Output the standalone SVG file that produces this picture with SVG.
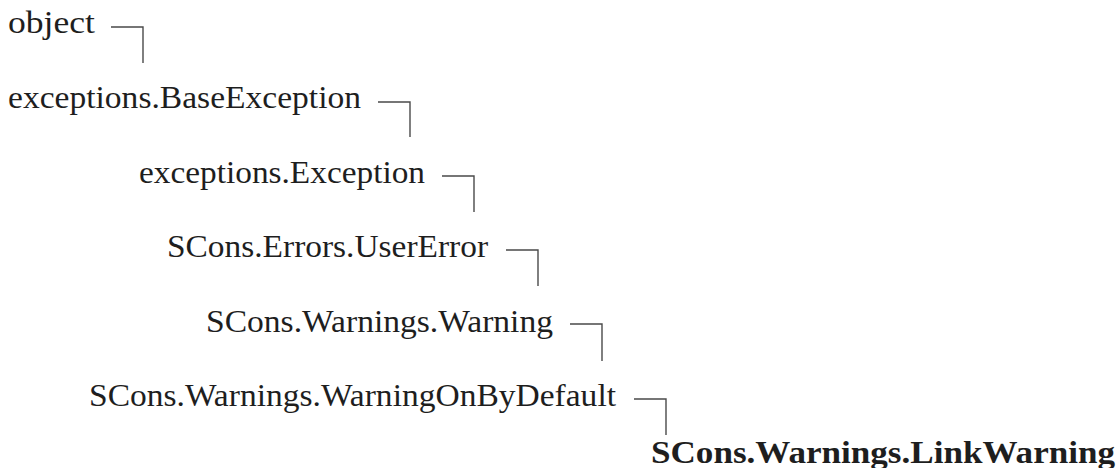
<svg xmlns="http://www.w3.org/2000/svg" width="1119" height="468" viewBox="0 0 1119 468">
  <style>
    .lbl { font-family: "Liberation Serif", "Times New Roman", serif; font-size: 32px; fill: #1e1e1e; }
    .bold { font-weight: bold; }
    .conn { fill: none; stroke: #4a4a4a; stroke-width: 1.4; }
  </style>
  <rect width="1119" height="468" fill="#ffffff"/>
  <g id="connectors">
    <path class="conn" d="M111,27 H143 V63"/>
    <path class="conn" d="M378,102 H410 V137"/>
    <path class="conn" d="M442,176 H474 V212"/>
    <path class="conn" d="M506,250 H538 V286"/>
    <path class="conn" d="M570,324 H602 V361"/>
    <path class="conn" d="M634,399 H666 V435"/>
  </g>
  <g id="node-object">
    <text class="lbl" x="8" y="33" textLength="87" lengthAdjust="spacingAndGlyphs">object</text>
  </g>
  <g id="node-BaseException">
    <text class="lbl" x="8" y="108" textLength="353" lengthAdjust="spacingAndGlyphs">exceptions.BaseException</text>
  </g>
  <g id="node-Exception">
    <text class="lbl" x="139" y="183" textLength="286" lengthAdjust="spacingAndGlyphs">exceptions.Exception</text>
  </g>
  <g id="node-UserError">
    <text class="lbl" x="167" y="257" textLength="321" lengthAdjust="spacingAndGlyphs">SCons.Errors.UserError</text>
  </g>
  <g id="node-Warning">
    <text class="lbl" x="206" y="332" textLength="347" lengthAdjust="spacingAndGlyphs">SCons.Warnings.Warning</text>
  </g>
  <g id="node-WarningOnByDefault">
    <text class="lbl" x="89" y="406" textLength="527" lengthAdjust="spacingAndGlyphs">SCons.Warnings.WarningOnByDefault</text>
  </g>
  <g id="node-LinkWarning">
    <text class="lbl bold" x="651" y="463" textLength="464" lengthAdjust="spacingAndGlyphs">SCons.Warnings.LinkWarning</text>
  </g>
</svg>
